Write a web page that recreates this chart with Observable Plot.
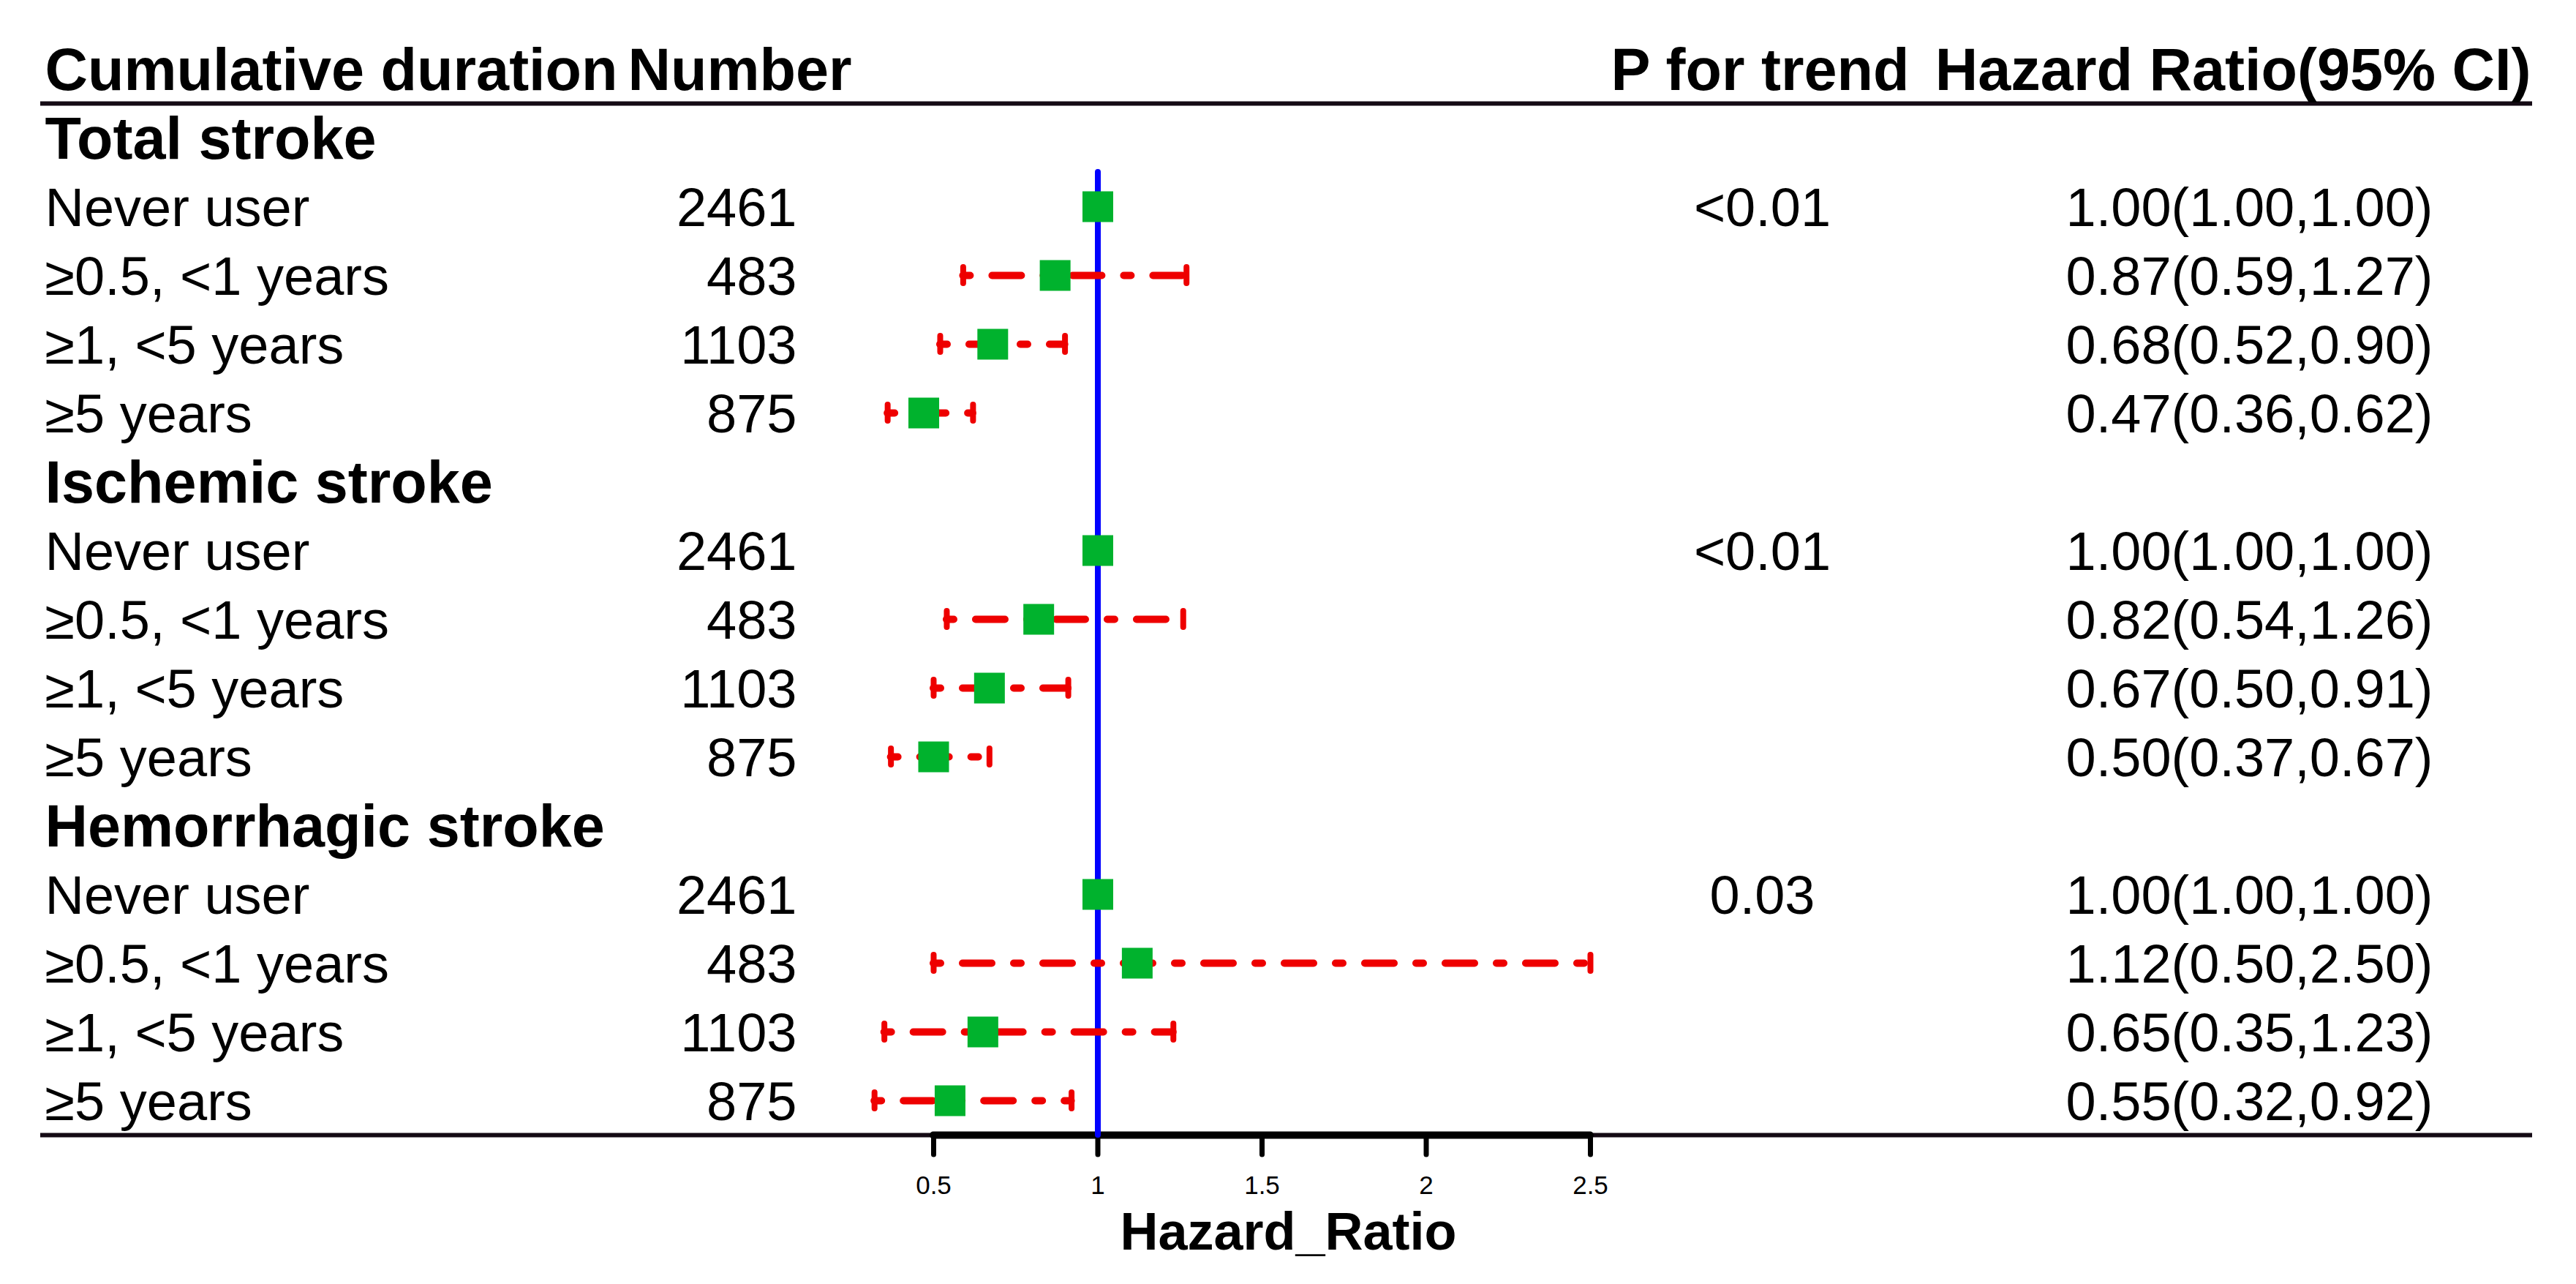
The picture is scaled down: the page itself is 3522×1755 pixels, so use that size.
<!DOCTYPE html>
<html>
<head>
<meta charset="utf-8">
<script src="https://cdn.jsdelivr.net/npm/d3@7"></script>
<script src="https://cdn.jsdelivr.net/npm/@observablehq/plot@0.6"></script>
<style>
  html, body { margin: 0; padding: 0; background: #ffffff; }
  #chart svg { display: block; }
</style>
</head>
<body>
<div id="chart"></div>
<script>
// ---------------- data ----------------
const headers = ["Cumulative duration", "Number", "P for trend", "Hazard Ratio(95% CI)"];
const groups = ["Total stroke", "Ischemic stroke", "Hemorrhagic stroke"];
const durations = ["Never user", "≥0.5, <1 years", "≥1, <5 years", "≥5 years"];
const counts = [
  [2461, 483, 1103, 875],
  [2461, 483, 1103, 875],
  [2461, 483, 1103, 875]
];
const hazard = [
  [1.00, 0.87, 0.68, 0.47],
  [1.00, 0.82, 0.67, 0.50],
  [1.00, 1.12, 0.65, 0.55]
];
const lower = [
  [1.00, 0.59, 0.52, 0.36],
  [1.00, 0.54, 0.50, 0.37],
  [1.00, 0.50, 0.35, 0.32]
];
const upper = [
  [1.00, 1.27, 0.90, 0.62],
  [1.00, 1.26, 0.91, 0.67],
  [1.00, 2.50, 1.23, 0.92]
];
const pTrend = ["<0.01", "<0.01", "0.03"];
const xTicks = [0.5, 1, 1.5, 2, 2.5];
const referenceHR = [1];
const axisTitle = "Hazard_Ratio";

// ---------------- table built from the arrays ----------------
const rows = [{id: "header", kind: "header"}];
groups.forEach((g, i) => {
  rows.push({id: `g${i}`, kind: "group", label: g});
  durations.forEach((d, j) => {
    rows.push({
      id: `g${i}r${j}`, kind: "item", label: d,
      n: counts[i][j], hr: hazard[i][j], lo: lower[i][j], hi: upper[i][j],
      p: j === 0 ? pTrend[i] : ""
    });
  });
});
const ids = rows.map(r => r.id);
const lastId = ids[ids.length - 1];
const groupRows = rows.filter(r => r.kind === "group");
const items = rows.filter(r => r.kind === "item");
const ciItems = items.filter(r => r.hi > r.lo);
const fmt = v => v.toFixed(2);

// ---------------- styles ----------------
const FONT = "'Liberation Sans', Arial, Helvetica, sans-serif";
const RED = "#ee0000";
const GREEN = "#00b22d";
const BLUE = "#0000ff";
const BODY = 74, BOLD = 81;
const TDY = 3;

const chart = Plot.plot({
  width: 3522,
  height: 1755,
  marginTop: 47,
  marginBottom: 204,
  marginLeft: 0,
  marginRight: 0,
  style: {fontFamily: FONT, background: "#ffffff", color: "#000000", overflow: "visible"},
  x: {type: "linear", domain: [xTicks[0], xTicks[xTicks.length - 1]], range: [1276, 2174]},
  y: {type: "point", domain: ids, padding: 0.5, axis: null},
  marks: [
    // table rules
    Plot.ruleY(["header"], {dy: 47, insetLeft: 55, insetRight: 60, stroke: "#140a14", strokeWidth: 6}),
    Plot.ruleY([lastId], {dy: 47, insetLeft: 55, insetRight: 60, stroke: "#140a14", strokeWidth: 6}),
    // axis line
    Plot.ruleY([lastId], {x1: () => xTicks[0], x2: () => xTicks[xTicks.length - 1], dy: 47,
      stroke: "#000000", strokeWidth: 10, strokeLinecap: "round"}),
    Plot.axisX({
      ticks: xTicks, tickFormat: d => `${d}`, tickSize: 27, tickPadding: 29,
      fontSize: 35, strokeWidth: 7, strokeLinecap: "round", stroke: "#000000", fill: "#000000", label: null
    }),
    Plot.text([axisTitle], {text: d => d, frameAnchor: "bottom", lineAnchor: "middle", dy: 133,
      fontSize: 72, fontWeight: "bold", fill: "#000000"}),
    // reference line at HR = 1
    Plot.ruleX(referenceHR.map(v => ({x: v, y1: "g0", y2: lastId})), {x: "x", y1: "y1", y2: "y2", dy: 47,
      stroke: BLUE, strokeWidth: 8, strokeLinecap: "round"}),
    // confidence intervals
    Plot.ruleY(ciItems, {y: "id", x1: "lo", x2: "hi", stroke: RED, strokeWidth: 10,
      strokeDasharray: "10,30,40,30", strokeLinecap: "round"}),
    Plot.ruleX(ciItems, {x: "lo", y1: "id", y2: "id", stroke: RED, strokeWidth: 8, insetTop: -11, insetBottom: -11, strokeLinecap: "round"}),
    Plot.ruleX(ciItems, {x: "hi", y1: "id", y2: "id", stroke: RED, strokeWidth: 8, insetTop: -11, insetBottom: -11, strokeLinecap: "round"}),
    // point estimates
    Plot.dot(items, {x: "hr", y: "id", symbol: "square", r: 23.7, fill: GREEN, stroke: null}),
    // headers
    Plot.text([headers[0]], {text: d => d, y: () => "header", frameAnchor: "left", dx: 61, dy: TDY,
      textAnchor: "start", fontSize: BOLD, fontWeight: "bold", fill: "#000000"}),
    Plot.text([headers[1]], {text: d => d, y: () => "header", frameAnchor: "left", dx: 858, dy: TDY,
      textAnchor: "start", fontSize: BOLD, fontWeight: "bold", fill: "#000000"}),
    Plot.text([headers[2]], {text: d => d, y: () => "header", frameAnchor: "left", dx: 2406, dy: TDY,
      textAnchor: "middle", fontSize: BOLD, fontWeight: "bold", fill: "#000000"}),
    Plot.text([headers[3]], {text: d => d, y: () => "header", frameAnchor: "left", dx: 3460, dy: TDY,
      textAnchor: "end", fontSize: BOLD, fontWeight: "bold", fill: "#000000"}),
    // group labels
    Plot.text(groupRows, {y: "id", text: "label", frameAnchor: "left", dx: 61, dy: TDY,
      textAnchor: "start", fontSize: BOLD, fontWeight: "bold", fill: "#000000"}),
    // row labels
    Plot.text(items, {y: "id", text: "label", frameAnchor: "left", dx: 61, dy: TDY,
      textAnchor: "start", fontSize: BODY, fill: "#000000"}),
    Plot.text(items, {y: "id", text: d => `${d.n}`, frameAnchor: "left", dx: 1089, dy: TDY,
      textAnchor: "end", fontSize: BODY, fill: "#000000"}),
    Plot.text(items.filter(d => d.p), {y: "id", text: "p", frameAnchor: "left", dx: 2409, dy: TDY,
      textAnchor: "middle", fontSize: BODY, fill: "#000000"}),
    Plot.text(items, {y: "id", text: d => `${fmt(d.hr)}(${fmt(d.lo)},${fmt(d.hi)})`, frameAnchor: "left", dx: 3326, dy: TDY,
      textAnchor: "end", fontSize: BODY, fill: "#000000"})
  ]
});
document.getElementById("chart").appendChild(chart);
</script>
</body>
</html>
